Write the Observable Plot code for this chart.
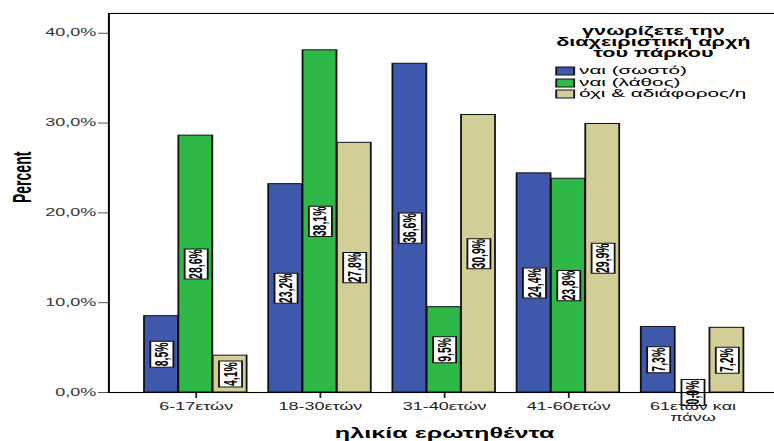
<!DOCTYPE html>
<html><head><meta charset="utf-8">
<script src="https://cdn.jsdelivr.net/npm/d3@7"></script>
<script src="https://cdn.jsdelivr.net/npm/@observablehq/plot@0.6"></script>
<style>
html,body{margin:0;padding:0;background:#fff;overflow:hidden;}
#wrap{position:relative;width:430px;height:441px;transform:scaleX(1.8);transform-origin:0 0;font-family:"Liberation Sans",Arial,sans-serif;}
#legend{position:absolute;left:300px;top:25.5px;width:126px;}
#ltitle{font-weight:bold;font-size:12px;line-height:11.2px;text-align:center;color:#000;white-space:pre-line;}
#litems{margin-top:6px;padding-left:9.4px;}
.lg-swatches{font-family:"Liberation Sans",Arial,sans-serif !important;font-size:11.5px !important;margin:0 !important;color:#000;}
.lg-swatch{padding-bottom:0 !important;line-height:11.7px;height:11.7px;}
.lg-swatch svg{margin-right:2.3px !important;overflow:visible;}
.lg-swatch svg rect{stroke:#111;stroke-width:1;}
</style>
</head><body>
<div id="wrap"><div id="legend"><div id="ltitle"></div><div id="litems"></div></div></div>
<script>
// ---- data ----
const ages = ["6-17ετών", "18-30ετών", "31-40ετών", "41-60ετών", "61ετών και\nπάνω"];
const series = ["ναι (σωστό)", "ναι (λάθος)", "όχι & αδιάφορος/η"];
const correctPct = [8.5, 23.2, 36.6, 24.4, 7.3];
const wrongPct = [28.6, 38.1, 9.5, 23.8, 0.0];
const noPct = [4.1, 27.8, 30.9, 29.9, 7.2];
const colors = ["#3e58ac", "#2eb848", "#d3ce97"];
const yTicks = [0, 10, 20, 30, 40];
const yMax = 42.2;
const legendTitle = "γνωρίζετε την\nδιαχειριστική αρχή\nτου πάρκου";
const xTitle = "ηλικία ερωτηθέντα";
const yTitle = "Percent";

const seriesValues = [correctPct, wrongPct, noPct];
const rows = series.flatMap((s, j) => ages.map((a, i) => ({age: a, series: s, value: seriesValues[j][i]})));

// ---- layout (native, unstretched) ----
const W = 430, H = 441;
const xRange = [72.2, 421.1];
const padIn = 0.18, padOut = 0.09;
const step = (xRange[1] - xRange[0]) / (ages.length - padIn + 2 * padOut);
const bw = step * (1 - padIn);
const w = bw / 3;
const fmt = v => v.toFixed(1).replace(".", ",") + "%";
const FONT = "'Liberation Sans', Arial, sans-serif";

// rectangular label box; its length follows the label's character count (r channel)
const boxSymbol = {
  draw(ctx, size) {
    const n = Math.sqrt(size / Math.PI);
    const hh = n * 2.05 + 4.8, hw = 6.4;
    ctx.moveTo(-hw, -hh); ctx.lineTo(hw, -hh); ctx.lineTo(hw, hh); ctx.lineTo(-hw, hh); ctx.closePath();
  }
};

const marks = [];
series.forEach((s, j) => {
  const d = rows.filter(r => r.series === s);
  marks.push(Plot.barY(d, {x: "age", y: "value", fill: "series", stroke: "#111", strokeWidth: 1,
    insetLeft: j * w, insetRight: (2 - j) * w}));
});
series.forEach((s, j) => {
  const d = rows.filter(r => r.series === s);
  marks.push(Plot.dot(d, {x: "age", y: r => r.value / 2, dx: (j - 1) * w, r: r => fmt(r.value).length,
    symbol: boxSymbol, fill: "#fff", stroke: "#111", strokeWidth: 1}));
  marks.push(Plot.text(d, {x: "age", y: r => r.value / 2, text: r => fmt(r.value), rotate: -90,
    dx: (j - 1) * w, fontSize: 10.5, fontWeight: "bold", fill: "#000"}));
});
marks.push(
  Plot.axisY({ticks: yTicks, tickFormat: fmt, tickSize: 5.5, tickPadding: 1.5, fontSize: 10, fill: "#333", stroke: "#555", label: null}),
  Plot.axisX({tickSize: 6, tickPadding: 3, fontSize: 10, fill: "#222", stroke: "#222", label: null, lineHeight: 1.15}),
  Plot.text([yTitle], {frameAnchor: "left", dx: -47.8, rotate: -90, fontSize: 14, fontWeight: "bold", fill: "#000"}),
  Plot.text([xTitle], {frameAnchor: "bottom", dy: 45, fontSize: 14, fontWeight: "bold", fill: "#000"}),
  Plot.frame({stroke: "#000", strokeWidth: 1.1})
);

const svg = Plot.plot({
  width: W, height: H,
  marginLeft: 60, marginRight: -3, marginTop: 13, marginBottom: 49,
  style: {fontFamily: FONT, background: "#fff"},
  x: {domain: ages, range: xRange, paddingInner: padIn, paddingOuter: padOut},
  y: {domain: [0, yMax]},
  r: {type: "identity"},
  color: {domain: series, range: colors},
  marks
});
const wrap = document.getElementById("wrap");
wrap.insertBefore(svg, wrap.firstChild);

document.getElementById("ltitle").textContent = legendTitle;
const leg = Plot.legend({color: {domain: series, range: colors}, columns: 1, swatchWidth: 10, swatchHeight: 8, className: "lg"});
document.getElementById("litems").appendChild(leg);
</script>
</body></html>
